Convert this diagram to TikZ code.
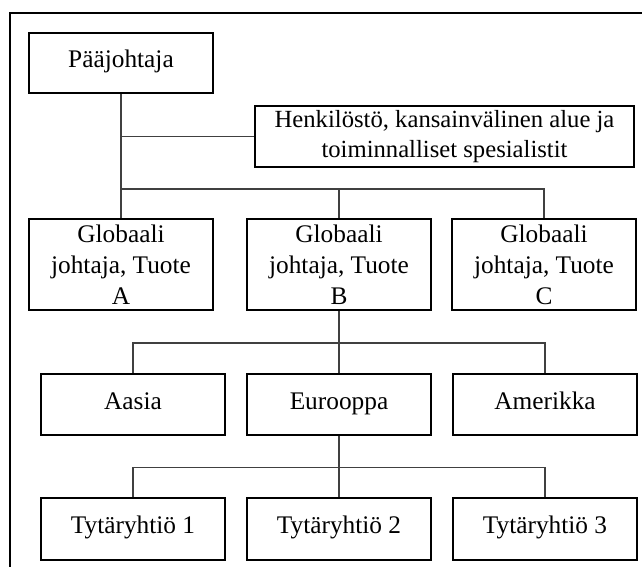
\documentclass[tikz,border=0pt]{standalone}
\usepackage{fontspec}
\setmainfont{Liberation Serif}
\usetikzlibrary{positioning}

\begin{document}
\begin{tikzpicture}[
    x=0.75pt, y=-0.75pt,
    node distance=15pt and 15pt,
    every node/.style={font=\fontsize{19}{23.25}\selectfont},
    baseBox/.style={rectangle, draw=black, line width=1.5pt, minimum width=138pt, align=center, inner sep=1pt},
    unitBox/.style={baseBox, minimum height=46pt, text height=12pt, text depth=5pt},
    globBox/.style={baseBox, minimum height=68.25pt},
    staffBox/.style={baseBox, minimum width=284.25pt, minimum height=45.75pt, font=\fontsize{18.5}{23}\selectfont},
    link/.style={draw=black!75, line width=0.8pt},
    frameLine/.style={draw=black, line width=1.5pt}
]
\useasboundingbox (0,0) rectangle (642,567);
\clip (0,0) rectangle (642,567);

% ============== Kehys ==============
\draw[frameLine] (9.5,600) |- (700,13.5);

% ============== Johto ==============
\node[unitBox, minimum height=45pt] (boss) at (121,63) {Pääjohtaja};
\node[staffBox, below right=8.25pt and 30pt of boss] (staff) {Henkilöstö, kansainvälinen alue ja\\toiminnalliset spesialistit};

% ============== Globaalit johtajat ==============
\node[globBox, below=93pt of boss]   (gA) {Globaali\\johtaja, Tuote\\A};
\node[globBox, right=24pt of gA]     (gB) {Globaali\\johtaja, Tuote\\B};
\node[globBox, right=14.25pt of gB]  (gC) {Globaali\\johtaja, Tuote\\C};

% ============== Alueet ==============
\node[unitBox, below=46.5pt of gB] (eur)  {Eurooppa};
\node[unitBox, left=of eur]        (asia) {Aasia};
\node[unitBox, right=of eur]       (amer) {Amerikka};

% ============== Tytäryhtiöt ==============
\node[unitBox, below=45.75pt of eur] (sub2) {Tytäryhtiö 2};
\node[unitBox, left=of sub2]         (sub1) {Tytäryhtiö 1};
\node[unitBox, right=of sub2]        (sub3) {Tytäryhtiö 3};

% ============== Yhteydet ==============
\coordinate[above=21.75pt of gB.north] (bus1);
\coordinate[above=22.5pt of eur.north]  (bus2);
\coordinate[above=22.5pt of sub2.north] (bus3);

\draw[link] (boss) -- (gA);
\draw[link] (boss.south |- staff.west) -- (staff.west);
\draw[link] (gA.north) |- (bus1) -| (gC.north);
\draw[link] (bus1) -- (gB);

\draw[link] (gB) -- (eur);
\draw[link] (asia.north) |- (bus2) -| (amer.north);

\draw[link] (eur) -- (sub2);
\draw[link] (sub1.north) |- (bus3) -| (sub3.north);
\end{tikzpicture}
\end{document}
